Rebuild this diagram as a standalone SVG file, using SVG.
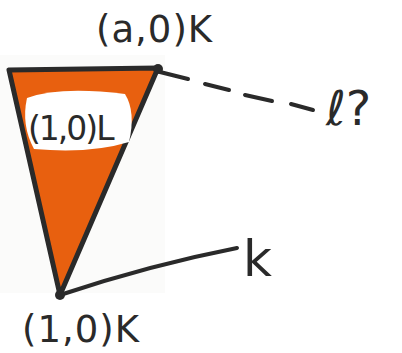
<svg xmlns="http://www.w3.org/2000/svg" width="402" height="353" viewBox="0 0 402 353">
<style>
.t{font-family:"DejaVu Sans","Liberation Sans",sans-serif;fill:#2a2a2a;}
.ln{stroke:#2a2a2a;stroke-width:4;stroke-linecap:round;fill:none;}
</style>
<rect width="402" height="353" fill="#ffffff"/>
<rect x="0" y="55" width="165" height="238" fill="#fbfbfa"/>
<g id="triangle">
<polygon points="9,70 158,68 60,295" fill="#e8600f" stroke="#2a2a2a" stroke-width="5" stroke-linejoin="round"/>
<path d="M27,98 Q60,86 125,94 Q136,112 129,142 Q90,154 34,149 Q21,125 27,98 Z" fill="#ffffff"/>
<text class="t" x="28" y="140" font-size="33" letter-spacing="-2">(1,0)L</text>
</g>
<g id="top">
<circle cx="158" cy="69" r="5" fill="#2a2a2a"/>
<text class="t" x="96" y="42" font-size="37" letter-spacing="1">(a,0)K</text>
</g>
<g id="bottom">
<circle cx="60" cy="295" r="5" fill="#2a2a2a"/>
<text class="t" x="22" y="342" font-size="37" letter-spacing="1">(1,0)K</text>
</g>
<g id="connectors">
<path class="ln" d="M160,72 L188,79"/>
<path class="ln" d="M205,84 L229,90"/>
<path class="ln" d="M245,95 L272,101"/>
<path class="ln" d="M291,104 L313,110"/>
<path class="ln" d="M60,295 Q150,265 237,248"/>
</g>
<g id="l">
<text class="t" x="326" y="125" font-size="48">ℓ?</text>
</g>
<g id="k">
<text class="t" x="243" y="276" font-size="50">k</text>
</g>
</svg>
